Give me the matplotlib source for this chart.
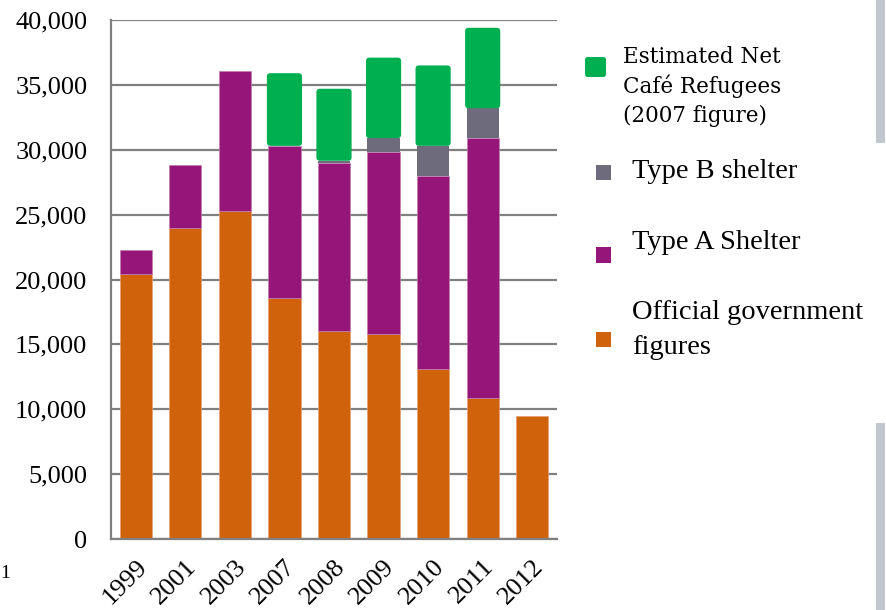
import numpy as np
import matplotlib.pyplot as plt
from matplotlib.patches import Rectangle, FancyBboxPatch
from matplotlib.transforms import ScaledTranslation

# homeless counts per year, stacked bottom to top
years = ["1999", "2001", "2003", "2007", "2008", "2009", "2010", "2011", "2012"]
official = [20400, 24000, 25300, 18600, 16000, 15800, 13100, 10900, 9500]
type_a = [1900, 4800, 10800, 11700, 13000, 14000, 14900, 20000, 0]
type_b = [0, 0, 0, 0, 150, 1100, 2300, 2300, 0]
net_cafe = [0, 0, 0, 5600, 5550, 6200, 6200, 6200, 0]

c_orange = "#D1620C"
c_purple = "#951579"
c_gray = "#6E6B7D"
c_green = "#00AF4F"

W, H = 887, 610
fig = plt.figure(figsize=(W / 100, H / 100), dpi=100)
ax = fig.add_axes([111 / W, 1 - 539 / H, 446 / W, 519 / H])

x = np.arange(len(years))
bw = 0.65
official = np.array(official)
type_a = np.array(type_a)
type_b = np.array(type_b)
net_cafe = np.array(net_cafe)

ax.bar(x, official, bw, color=c_orange, edgecolor="#E8A070", linewidth=0.5, zorder=3)
ax.bar(x, type_a, bw, bottom=official, color=c_purple,
       edgecolor=["#C080B0" if v > 0 else "none" for v in type_a],
       linewidth=0.5, zorder=3)
ax.bar(x, type_b, bw, bottom=official + type_a, color=c_gray, linewidth=0, zorder=3)

# green tops have slightly rounded corners
base = official + type_a + type_b
px_x = 446 / 9.0
px_y = 519 / 40000.0
for xi, b0, h in zip(x, base, net_cafe):
    if h <= 0:
        continue
    ax.add_patch(FancyBboxPatch((xi - bw / 2 - 0.03, b0), bw + 0.06, h,
                                boxstyle="round,pad=0,rounding_size=0.07",
                                mutation_aspect=px_x / px_y,
                                facecolor=c_green, edgecolor="none", zorder=3))

ax.set_xlim(-0.5, 8.5)
ax.set_ylim(0, 40000)
ax.set_yticks(np.arange(0, 40001, 5000))
ax.set_yticklabels([f"{v:,}" for v in range(0, 40001, 5000)],
                   fontfamily="Liberation Serif", fontsize=19)
ax.set_xticks(x)
ax.set_xticklabels(years, rotation=45, ha="right", rotation_mode="anchor",
                   fontfamily="Liberation Serif", fontsize=19)
shift = ScaledTranslation(-6 / 100, 0, fig.dpi_scale_trans)
for lab in ax.get_xticklabels():
    lab.set_transform(lab.get_transform() + shift)
ax.tick_params(axis="y", length=0, pad=17)
ax.tick_params(axis="x", length=0, pad=12)
ax.grid(axis="y", color="#808080", linewidth=1.6, zorder=1)
for s in ["top", "right"]:
    ax.spines[s].set_visible(False)
for s in ["left", "bottom"]:
    ax.spines[s].set_color("#808080")
    ax.spines[s].set_linewidth(1.6)
    ax.spines[s].set_zorder(4)


def fx(px):
    return px / W


def fy(py):
    return 1 - py / H


# legend, built by hand
fig.add_artist(FancyBboxPatch((fx(585), fy(77)), 21 / W, 20 / H,
                              boxstyle="round,pad=0,rounding_size=0.003",
                              mutation_aspect=W / H, transform=fig.transFigure,
                              facecolor=c_green, edgecolor="none"))
for top, col in [(165, c_gray), (247.5, c_purple), (331.5, c_orange)]:
    fig.add_artist(Rectangle((fx(596), fy(top + 15)), 15 / W, 15 / H,
                             transform=fig.transFigure, facecolor=col,
                             edgecolor="none"))

for txt, base_y in [("Estimated Net", 63), ("Café Refugees", 93), ("(2007 figure)", 122)]:
    fig.text(fx(623), fy(base_y), txt, fontfamily="DejaVu Serif", fontsize=15.5,
             va="baseline", ha="left")
for txt, base_y in [("Type B shelter", 178), ("Type A Shelter", 249),
                    ("Official government", 319), ("figures", 354)]:
    fig.text(fx(632), fy(base_y), txt, fontfamily="Liberation Serif", fontsize=20.5,
             va="baseline", ha="left")

# grey strips on the right edge
fig.add_artist(Rectangle((fx(876), fy(143)), 9 / W, 143 / H,
                         transform=fig.transFigure, facecolor="#C2C6CE", edgecolor="none"))
fig.add_artist(Rectangle((fx(876), 0), 9 / W, (H - 423) / H,
                         transform=fig.transFigure, facecolor="#C2C6CE", edgecolor="none"))
fig.text(fx(0), fy(578), "1", fontfamily="Liberation Serif", fontsize=14,
         va="baseline", ha="left")

fig.savefig("out.png", dpi=100)
